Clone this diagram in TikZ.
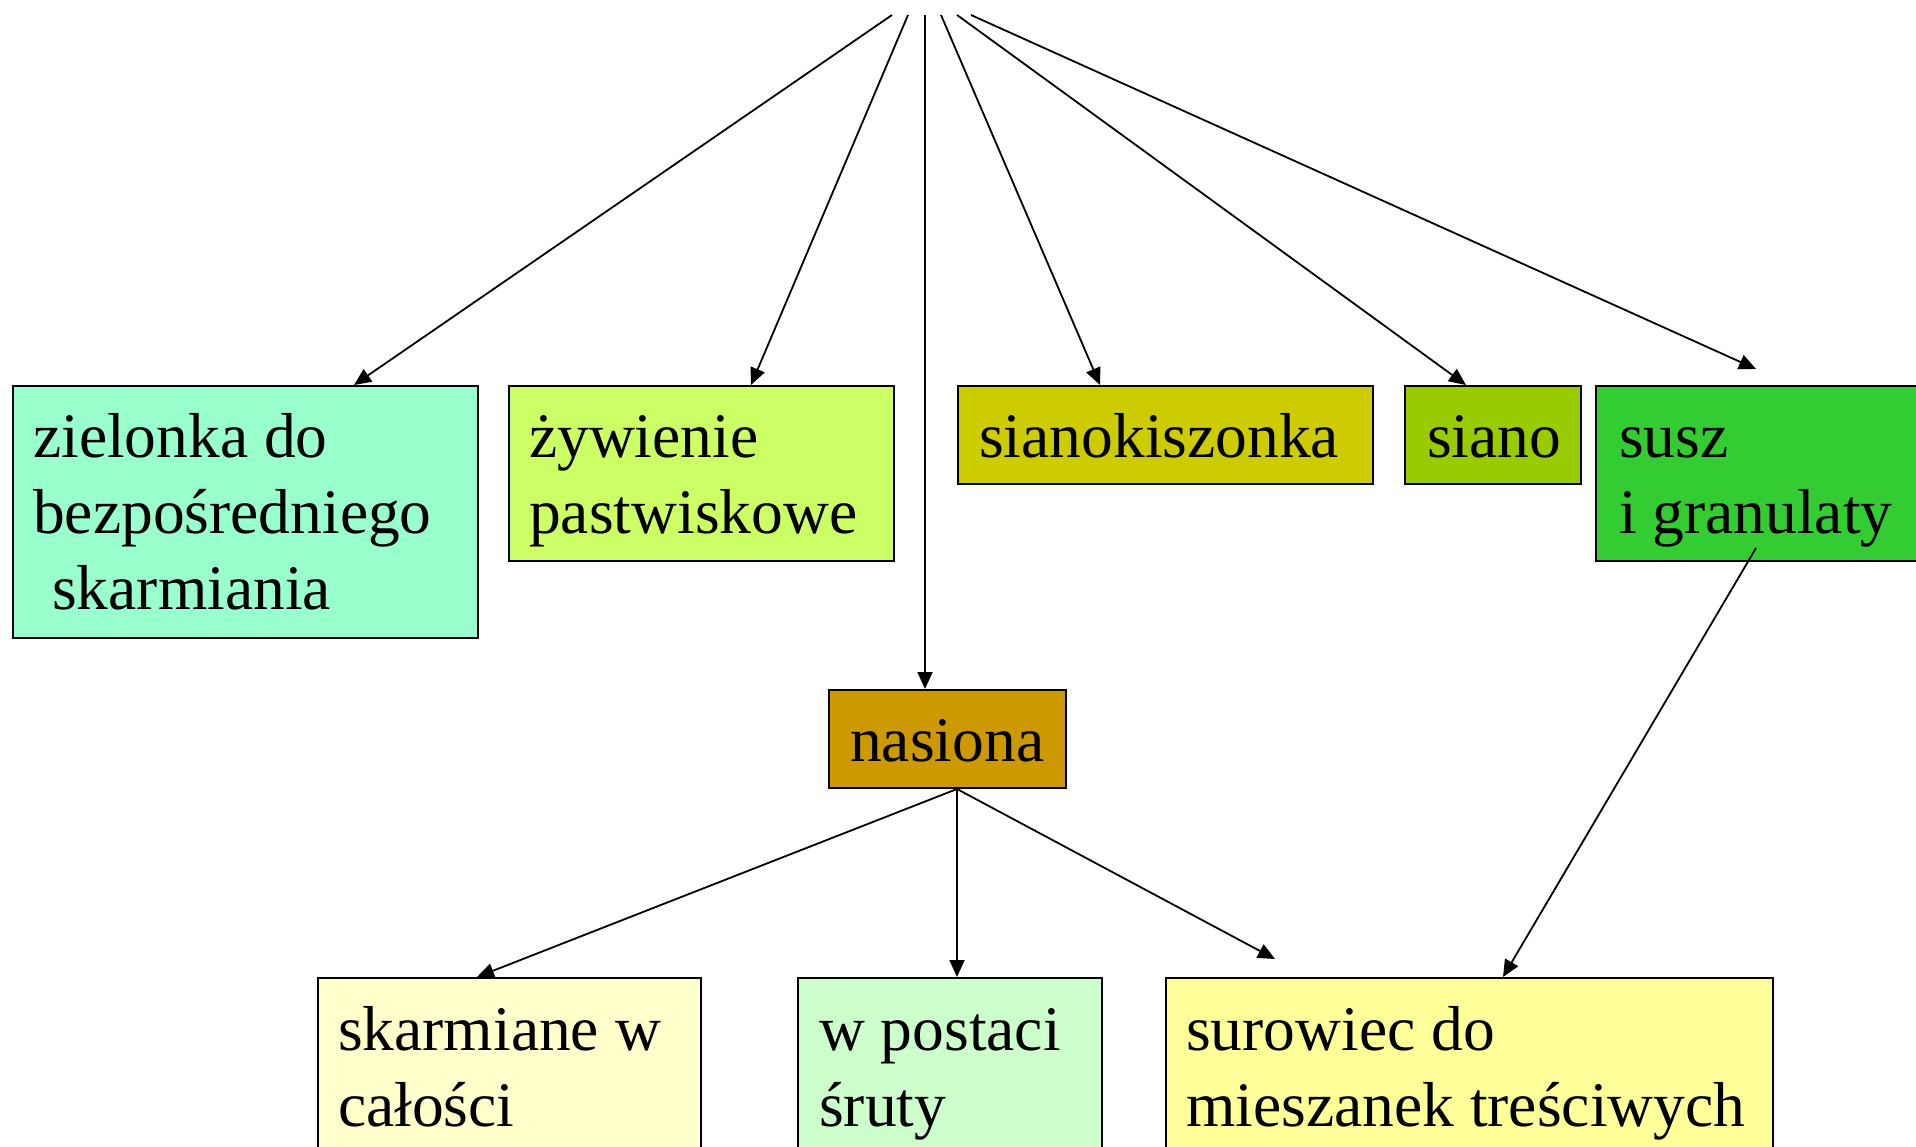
\documentclass[tikz,border=0pt]{standalone}
\usepackage{fontspec}
\setmainfont{Liberation Serif}
\usetikzlibrary{arrows.meta}
\newcommand\mylines[1]{\begin{tabular}[t]{@{}l@{}}#1\end{tabular}}
\definecolor{cZiel}{HTML}{99FFCC}
\definecolor{cZyw}{HTML}{CCFF66}
\definecolor{cSianok}{HTML}{CCCC00}
\definecolor{cSiano}{HTML}{99CC00}
\definecolor{cSusz}{HTML}{33CC33}
\definecolor{cNas}{HTML}{CC9900}
\definecolor{cSkarm}{HTML}{FFFFCC}
\definecolor{cWpost}{HTML}{CCFFCC}
\definecolor{cSur}{HTML}{FFFF99}
\tikzset{
  boxstyle/.style={draw=black, line width=2pt, inner sep=0pt, anchor=north west},
  txt/.style={anchor=base west, inner sep=0pt, font=\fontsize{63.5}{76}\selectfont},
  conn/.style={line width=1.8pt, -{Triangle[length=17pt,width=15pt]}}
}
\begin{document}
\begin{tikzpicture}[x=1pt,y=-1pt]
\useasboundingbox (0,0) rectangle (1916,1146);
\clip (0,0) rectangle (1916,1146);
% boxes
\node[boxstyle, fill=cZiel, minimum width=465pt, minimum height=252pt] (zb) at (12,385) {};
\node[boxstyle, fill=cZyw, minimum width=385pt, minimum height=175pt] (zyb) at (508,385) {};
\node[boxstyle, fill=cSianok, minimum width=415pt, minimum height=98pt] (skb) at (957,385) {};
\node[boxstyle, fill=cSiano, minimum width=176pt, minimum height=98pt] (sib) at (1404,385) {};
\node[boxstyle, fill=cSusz, minimum width=340pt, minimum height=175pt] (sub) at (1595,385) {};
\node[boxstyle, fill=cNas, minimum width=237pt, minimum height=98pt] (nab) at (828,689) {};
\node[boxstyle, fill=cSkarm, minimum width=383pt, minimum height=190pt] (kab) at (317,977) {};
\node[boxstyle, fill=cWpost, minimum width=304pt, minimum height=190pt] (wpb) at (797,977) {};
\node[boxstyle, fill=cSur, minimum width=607pt, minimum height=190pt] (srb) at (1165,977) {};
% texts
\node[txt] (zt) at (33,457) {\mylines{zielonka do\\bezpośredniego\\\hspace{0.3em}skarmiania}};
\node[txt] (zyt) at (529,457) {\mylines{żywienie\\pastwiskowe}};
\node[txt] (skt) at (979,457) {sianokiszonka};
\node[txt] (sit) at (1427,457) {siano};
\node[txt] (sut) at (1619,457) {\mylines{susz\\i granulaty}};
\node[txt] (nat) at (850,761) {nasiona};
\node[txt] (kat) at (338,1050) {\mylines{skarmiane w\\całości}};
\node[txt] (wpt) at (819,1050) {\mylines{w postaci\\śruty}};
\node[txt] (srt) at (1186,1050) {\mylines{surowiec do\\mieszanek treściwych}};
% top free ends
\coordinate (o1) at (892,15);
\coordinate (o2) at (908,15);
\coordinate (o3) at (925,15);
\coordinate (o4) at (941,15);
\coordinate (o5) at (957,15);
\coordinate (o6) at (971,15);
% connectors from top
\draw[conn] (o1) -- (354,0 |- zb.north);
\draw[conn] (o2) -- (751,0 |- zyb.north);
\draw[conn] (o3) -- (925,0 |- nab.north);
\draw[conn] (o4) -- (1100,0 |- skb.north);
\draw[conn] (o5) -- (1466,0 |- sib.north);
\draw[conn] (o6) -- ([yshift=16pt]1756,0 |- sub.north);
% from nasiona
\draw[conn] (957,0 |- nab.south) -- (477,0 |- kab.north);
\draw[conn] (957,0 |- nab.south) -- (957,0 |- wpb.north);
\draw[conn] (957,0 |- nab.south) -- ([yshift=18pt]1275,0 |- srb.north);
% from susz
\draw[conn] ([yshift=14pt]1756,0 |- sub.south) -- (1503,0 |- srb.north);
\end{tikzpicture}
\end{document}
